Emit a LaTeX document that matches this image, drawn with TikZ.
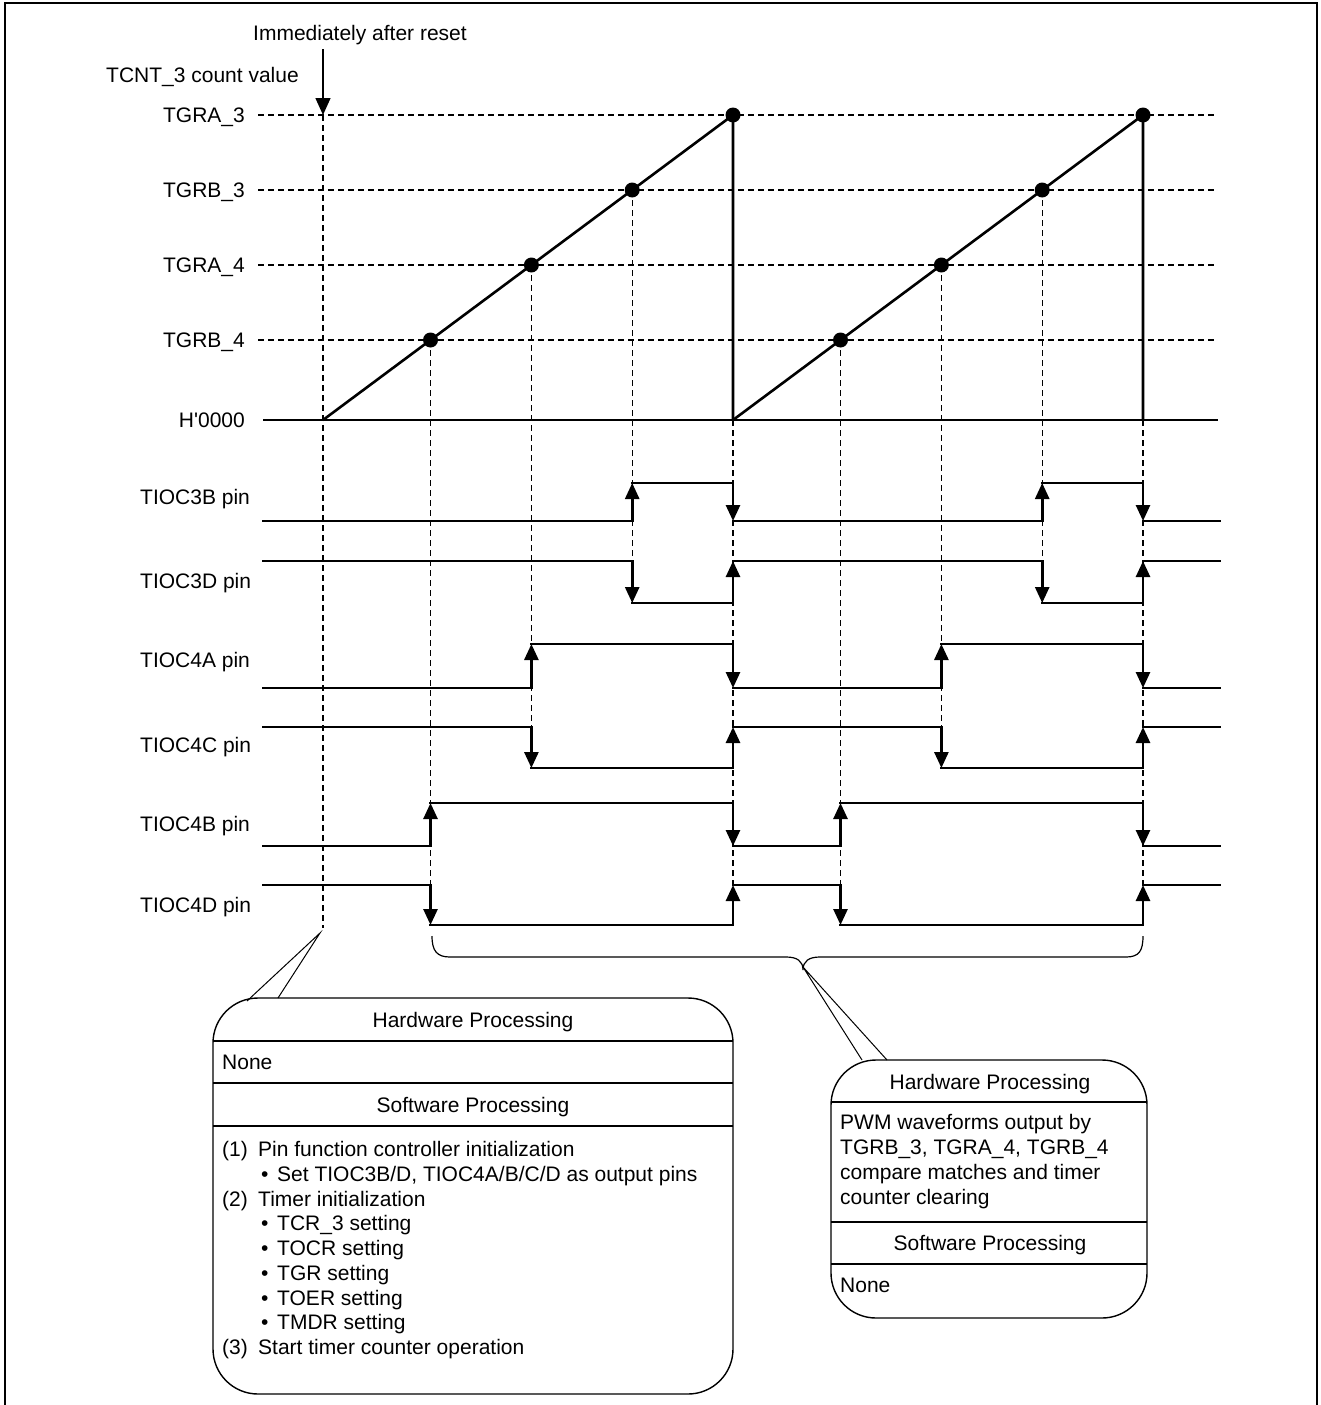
\documentclass[tikz,border=0pt]{standalone}
\usepackage{fontspec}
\setmainfont{Liberation Sans}
\usetikzlibrary{arrows.meta}
\newcommand\pinwave[6]{%
 \draw[wave] (263,#1) -- (#3,#1);
 \draw[wave,sigtip] (#3,#1) -- (#3,#2);
 \draw[wave] (#3,#2) -- (#4,#2);
 \draw[wave,sigtip] (#4,#2) -- (#4,#1);
 \draw[wave] (#4,#1) -- (#5,#1);
 \draw[wave,sigtip] (#5,#1) -- (#5,#2);
 \draw[wave] (#5,#2) -- (#6,#2);
 \draw[wave,sigtip] (#6,#2) -- (#6,#1);
 \draw[wave] (#6,#1) -- (1220,#1);
}
\begin{document}
\begin{tikzpicture}[x=1pt,y=-1pt,
  every node/.style={font=\fontsize{21}{25}\selectfont, inner sep=0pt},
  wave/.style={line width=2.7pt, line cap=rect},
  sigtip/.style={line cap=butt, -{Triangle[length=16pt,width=14pt]}},
  guide/.style={line width=1.1pt, dash pattern=on 6pt off 4pt},
  thinline/.style={line width=1.2pt},
  procbox/.style={line width=1.4pt, rounded corners=45pt},
  lvl/.style={anchor=base east},
  lbl/.style={anchor=base west},
  ctr/.style={anchor=base}
]
\useasboundingbox (0,0) rectangle (1320,1405);
% frame
\draw[line width=2pt] (5,1405) -- (5,3) -- (1317,3) -- (1317,1405);

% top texts
\node[lbl] (reset) at (253,40.5) {Immediately after reset};
\node[lbl] (tcnt) at (106,82.5) {TCNT\_3 count value};
\coordinate (r0) at (323,115);
\draw[line width=1.4pt, -{Triangle[length=17pt,width=15pt]}] ([yshift=-9pt]reset.base -| r0) -- (r0);

% level labels
\node[lvl] (lA3) at (245,122.5) {TGRA\_3};
\node[lvl] (lB3) at (245,197.5) {TGRB\_3};
\node[lvl] (lA4) at (245,272.5) {TGRA\_4};
\node[lvl] (lB4) at (245,347.5) {TGRB\_4};
\node[lvl] (lH) at (245,427.5) {H\textquotesingle 0000};

% level guides
\foreach \y in {115,190,265,340} \draw[guide] (258,\y) -- (1216,\y);

% vertical guides
\draw[guide] (323,115) -- (323,928);
\draw[guide] (430.5,340) -- (430.5,925);
\draw[guide] (531.4,265) -- (531.4,768);
\draw[guide] (632.2,190) -- (632.2,603);
\draw[guide] (733,420) -- (733,925);
\draw[guide] (840.5,340) -- (840.5,925);
\draw[guide] (941.4,265) -- (941.4,768);
\draw[guide] (1042.2,190) -- (1042.2,603);
\draw[guide] (1143,420) -- (1143,925);

% zero line and ramps
\draw[line width=2.7pt] (263,420) -- (1218,420);
\draw[line width=2.6pt, line join=miter] (323,420) -- (733,115) -- (733,420);
\draw[line width=2.6pt, line join=miter] (733,420) -- (1143,115) -- (1143,420);
\foreach \p in {(430.5,340),(531.4,265),(632.2,190),(733,115),(840.5,340),(941.4,265),(1042.2,190),(1143,115)}
  \fill \p circle (7.5);

% pin labels
\node[lbl] (p3b) at (140,504.5) {TIOC3B pin};
\node[lbl] (p3d) at (140,588.5) {TIOC3D pin};
\node[lbl] (p4a) at (140,667.5) {TIOC4A pin};
\node[lbl] (p4c) at (140,752.5) {TIOC4C pin};
\node[lbl] (p4b) at (140,831.5) {TIOC4B pin};
\node[lbl] (p4d) at (140,912.5) {TIOC4D pin};

% waveforms
\pinwave{521}{483}{632.2}{733}{1042.2}{1143}
\pinwave{561}{603}{632.2}{733}{1042.2}{1143}
\pinwave{688}{644}{531.4}{733}{941.4}{1143}
\pinwave{727}{768}{531.4}{733}{941.4}{1143}
\pinwave{846}{803}{430.5}{733}{840.5}{1143}
\pinwave{885}{925}{430.5}{733}{840.5}{1143}

% brace
\coordinate (btip) at (803,970);
\draw[thinline] (432,936) .. controls (432,951) and (437,957) .. (450,957) -- (786,957)
  .. controls (797,957) and (803,961) .. (btip)
  .. controls (803,961) and (809,957) .. (820,957) -- (1126,957)
  .. controls (1139,957) and (1143,951) .. (1143,936);

% left box
\coordinate (ltip) at (320,933);
\draw[procbox] (213,998) rectangle (733,1394);
\draw[thinline] (213,1041) -- (733,1041);
\draw[thinline] (213,1083) -- (733,1083);
\draw[thinline] (213,1126) -- (733,1126);
\draw[line width=1pt] (247,1001) -- (ltip) -- (278,998);
\node[ctr] (lhw) at (473,1027.5) {Hardware Processing};
\node[lbl] (lhwt) at (222,1069) {None};
\node[ctr] (lsw) at (473,1112.5) {Software Processing};
\node[lbl] (n1) at (222,1156.5) {(1)};
\node[lbl] (t1) at (258,1156.5) {Pin function controller initialization};
\node[lbl] (b1) at (261,1181.25) {•};
\node[lbl] (t1a) at (277,1181.25) {Set TIOC3B/D, TIOC4A/B/C/D as output pins};
\node[lbl] (n2) at (222,1206) {(2)};
\node[lbl] (t2) at (258,1206) {Timer initialization};
\node[lbl] (b2) at (261,1230.75) {•};
\node[lbl] (t2a) at (277,1230.75) {TCR\_3 setting};
\node[lbl] (b3) at (261,1255.5) {•};
\node[lbl] (t2b) at (277,1255.5) {TOCR setting};
\node[lbl] (b4) at (261,1280.25) {•};
\node[lbl] (t2c) at (277,1280.25) {TGR setting};
\node[lbl] (b5) at (261,1305) {•};
\node[lbl] (t2d) at (277,1305) {TOER setting};
\node[lbl] (b6) at (261,1329.75) {•};
\node[lbl] (t2e) at (277,1329.75) {TMDR setting};
\node[lbl] (n3) at (222,1354.5) {(3)};
\node[lbl] (t3) at (258,1354.5) {Start timer counter operation};

% right box
\draw[procbox] (831,1060) rectangle (1147,1318);
\draw[thinline] (831,1102) -- (1147,1102);
\draw[thinline] (831,1222) -- (1147,1222);
\draw[thinline] (831,1264) -- (1147,1264);
\draw[line width=1pt] (862,1060) -- ([yshift=3pt]btip) -- (887,1060);
\node[ctr] (rhw) at (990,1089) {Hardware Processing};
\node[lbl] (r1) at (840,1129.5) {PWM waveforms output by};
\node[lbl] (r2) at (840,1154.5) {TGRB\_3, TGRA\_4, TGRB\_4};
\node[lbl] (r3) at (840,1179.5) {compare matches and timer};
\node[lbl] (r4) at (840,1204.5) {counter clearing};
\node[ctr] (rsw) at (990,1250.5) {Software Processing};
\node[lbl] (rn) at (840,1292.5) {None};
\end{tikzpicture}
\end{document}
